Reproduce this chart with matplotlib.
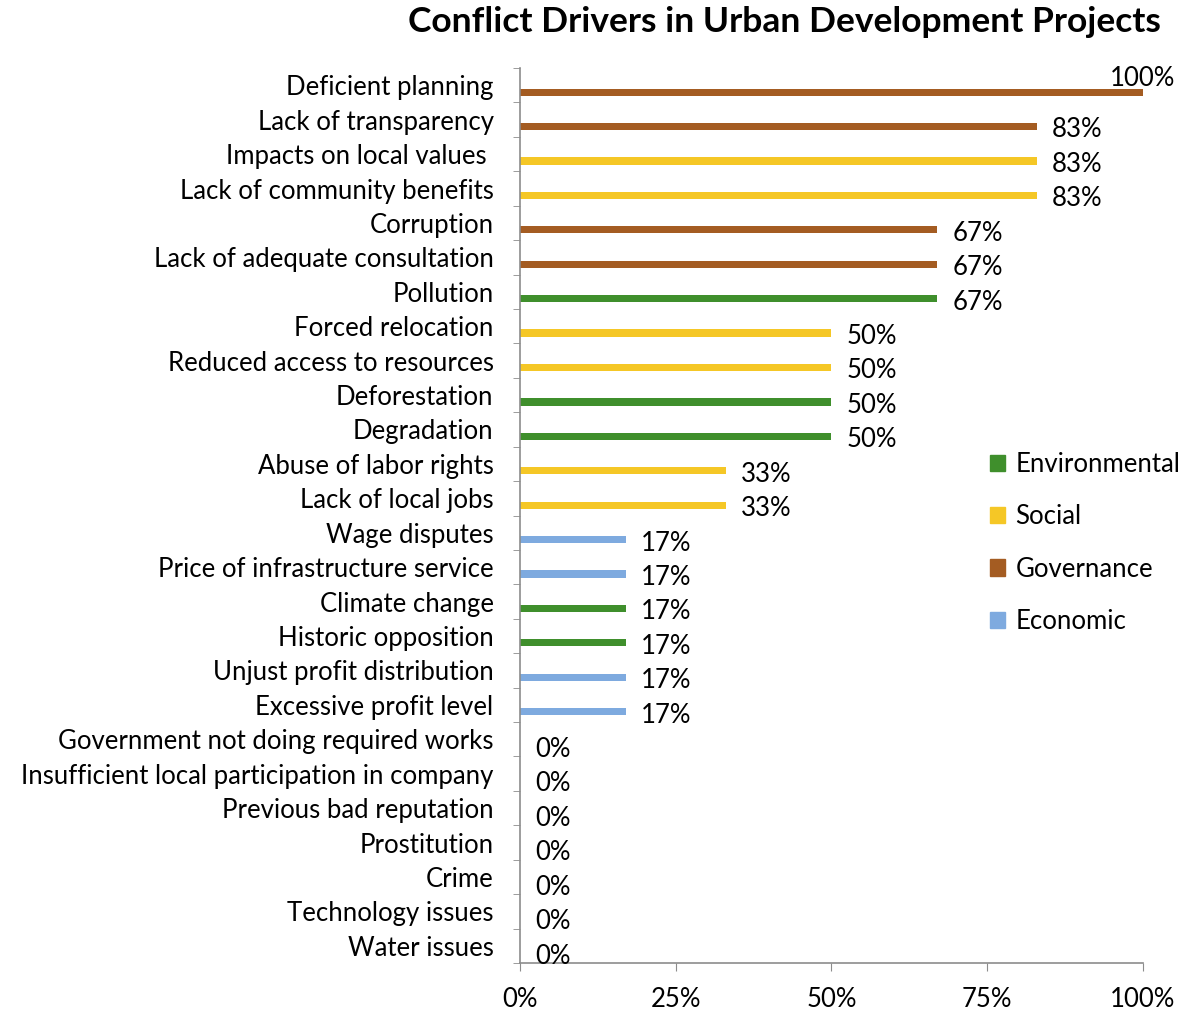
import numpy as np
import matplotlib.pyplot as plt
from matplotlib.ticker import FixedLocator

plt.rcParams["font.family"] = ["Lato", "DejaVu Sans"]

categories = [
    "Deficient planning", "Lack of transparency", "Impacts on local values ",
    "Lack of community benefits", "Corruption", "Lack of adequate consultation",
    "Pollution", "Forced relocation", "Reduced access to resources",
    "Deforestation", "Degradation", "Abuse of labor rights", "Lack of local jobs",
    "Wage disputes", "Price of infrastructure service", "Climate change",
    "Historic opposition", "Unjust profit distribution", "Excessive profit level",
    "Government not doing required works",
    "Insufficient local participation in company", "Previous bad reputation",
    "Prostitution", "Crime", "Technology issues", "Water issues",
]
values = [100, 83, 83, 83, 67, 67, 67, 50, 50, 50, 50, 33, 33,
          17, 17, 17, 17, 17, 17, 0, 0, 0, 0, 0, 0, 0]
groups = ["Governance", "Governance", "Social", "Social", "Governance", "Governance",
          "Environmental", "Social", "Social", "Environmental", "Environmental",
          "Social", "Social", "Economic", "Economic", "Environmental", "Environmental",
          "Economic", "Economic", "Governance", "Social", "Governance", "Social",
          "Social", "Economic", "Environmental"]

COLORS = {
    "Environmental": "#3f8f2c",
    "Social": "#f5c726",
    "Governance": "#a45c22",
    "Economic": "#7eaadf",
}
legend_order = ["Environmental", "Social", "Governance", "Economic"]
FS = 18.5

fig = plt.figure(figsize=(11.82, 10.11), dpi=100)
ax = fig.add_axes([0.4399, 0.0475, 0.967 - 0.4399, 0.9327 - 0.0475])

n = len(categories)
pos = np.arange(n)
bar_pos = pos + 0.2  # bars sit a bit below category centre
ax.barh(bar_pos, values, height=0.21, color=[COLORS[g] for g in groups])

for p, v in zip(bar_pos, values):
    if v >= 100:
        ax.text(v, p - 0.4, f"{v}%", ha="center", va="center", fontsize=FS)
    else:
        ax.text(v + 2.4, p + 0.1, f"{v}%", ha="left", va="center", fontsize=FS)

ax.set_ylim(n - 0.5, -0.5)
ax.set_xlim(0, 100)
ax.set_yticks(pos)
ax.set_yticklabels(categories, fontsize=FS)
ax.yaxis.set_minor_locator(FixedLocator(np.arange(n + 1) - 0.5))
ax.tick_params(axis="y", which="major", length=0, pad=19)
ax.tick_params(axis="y", which="minor", length=5, color="#8c8c8c", direction="out")

ax.set_xticks([0, 25, 50, 75, 100])
ax.set_xticklabels(["0%", "25%", "50%", "75%", "100%"], fontsize=FS)
ax.tick_params(axis="x", length=6, color="#8c8c8c", direction="out", pad=11)

for side in ["top", "right"]:
    ax.spines[side].set_visible(False)
for side in ["left", "bottom"]:
    ax.spines[side].set_color("#8c8c8c")
    ax.spines[side].set_linewidth(1.2)

handles = [plt.Rectangle((0, 0), 1, 1, color=COLORS[g]) for g in legend_order]
fig.legend(handles, legend_order, loc="upper left", bbox_to_anchor=(0.8285, 0.563),
           frameon=False, fontsize=FS, handlelength=0.6, handleheight=0.6,
           handletextpad=0.4, labelspacing=1.06, borderaxespad=0.0)

fig.text(0.664, 0.978, "Conflict Drivers in Urban Development Projects",
         ha="center", va="center", fontsize=25.5, fontweight="bold")

fig.savefig("out.png", dpi=100)
